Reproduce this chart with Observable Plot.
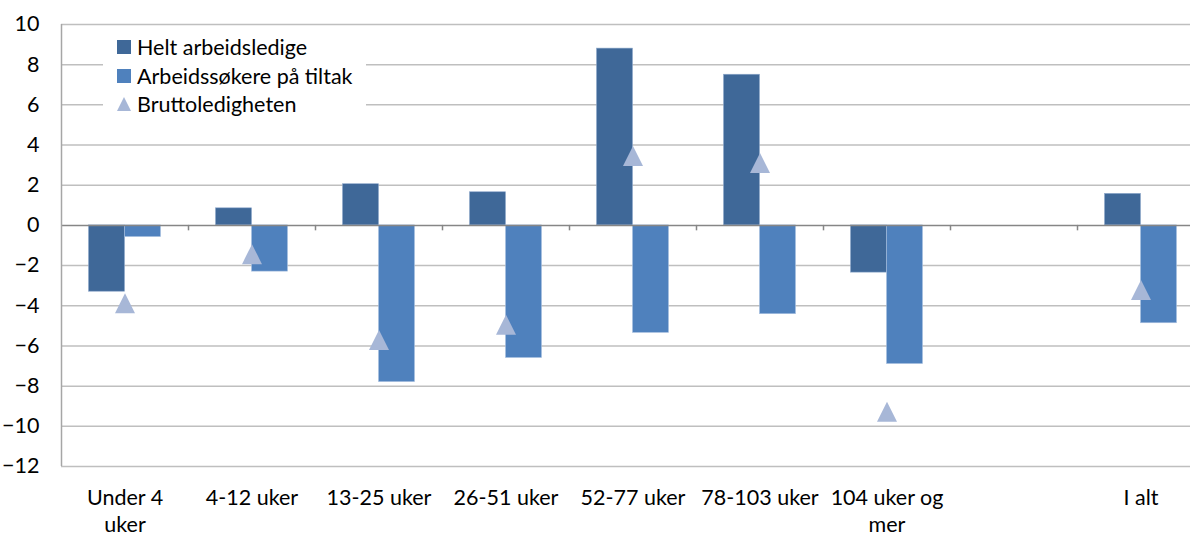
<!DOCTYPE html>
<html>
<head>
<meta charset="utf-8">
<script src="https://cdn.jsdelivr.net/npm/d3@7"></script>
<script src="https://cdn.jsdelivr.net/npm/@observablehq/plot@0.6"></script>
<style>
  html, body { margin: 0; padding: 0; background: #fff; overflow: hidden; }
  #wrap { position: relative; width: 1204px; height: 536px; font-family: Lato, "Open Sans", sans-serif; }
  #legend { position: absolute; left: 103px; top: 31px; width: 263px; height: 86px; background: #fff; }
  .item { position: absolute; left: 14px; height: 20px; display: flex; align-items: center; font-size: 21.5px; color: #000; white-space: nowrap; }
  .sw { width: 14px; height: 14px; margin-right: 6px; flex: none; }
</style>
</head>
<body>
<div id="wrap"><div id="chart"></div><div id="legend"></div></div>
<script>
const categories = ["Under 4 uker", "4-12 uker", "13-25 uker", "26-51 uker", "52-77 uker", "78-103 uker", "104 uker og mer", "", "I alt"];
const tickLabels = ["Under 4\nuker", "4-12 uker", "13-25 uker", "26-51 uker", "52-77 uker", "78-103 uker", "104 uker og\nmer", "", "I alt"];
const seriesNames = ["Helt arbeidsledige", "Arbeidssøkere på tiltak", "Bruttoledigheten"];
const heltLedige = [-3.3, 0.85, 2.05, 1.65, 8.8, 7.5, -2.35, null, 1.57];
const tiltak = [-0.58, -2.3, -7.8, -6.6, -5.35, -4.42, -6.9, null, -4.87];
const brutto = [-3.88, -1.43, -5.7, -4.95, 3.46, 3.11, -9.28, null, -3.22];
const yTicks = [-12, -10, -8, -6, -4, -2, 0, 2, 4, 6, 8, 10];

const colors = ["#3F6898", "#4F81BD", "#A7B7D7"];

const rows = [];
categories.forEach((c, i) => {
  if (heltLedige[i] != null) rows.push({cat: c, series: seriesNames[0], value: heltLedige[i]});
  if (tiltak[i] != null) rows.push({cat: c, series: seriesNames[1], value: tiltak[i]});
});
const pts = categories.map((c, i) => ({cat: c, value: brutto[i]})).filter(d => d.value != null);

const boxTriangle = {
  draw(ctx, size) {
    const r = Math.sqrt(size / Math.PI);
    ctx.moveTo(0, -r);
    ctx.lineTo(r, r);
    ctx.lineTo(-r, r);
    ctx.closePath();
  }
};

const W = 1204, H = 536, ML = 61, MB = 70, MT = 24;
const band = (W - ML) / categories.length;
const barW = 36;
const FS = 21.5;

const chart = Plot.plot({
  width: W,
  height: H,
  marginLeft: ML,
  marginRight: 0,
  marginTop: MT,
  marginBottom: MB,
  style: {fontFamily: "Lato, 'Open Sans', sans-serif", fontSize: FS + "px", color: "#000", background: "#fff", overflow: "visible"},
  x: {type: "band", domain: categories, padding: 0, label: null},
  y: {domain: [-12, 10], label: null},
  marks: [
    Plot.gridY(yTicks.filter(t => t !== 0), {stroke: "#BFBFBF", strokeOpacity: 1, strokeWidth: 1.5}),
    Plot.axisY(yTicks, {tickSize: 0, tickPadding: 22, fontSize: FS, fill: "#000", label: null}),
    Plot.axisX({tickSize: 0, tickPadding: 19, tickFormat: (d) => tickLabels[categories.indexOf(d)], fontSize: FS, lineHeight: 1.27, fill: "#000", label: null}),
    Plot.barY(rows.filter(d => d.series === seriesNames[0]), {x: "cat", y: "value", fill: colors[0], insetLeft: band / 2 - barW, insetRight: band / 2, stroke: "#8FA9CC", strokeWidth: 0.6}),
    Plot.barY(rows.filter(d => d.series === seriesNames[1]), {x: "cat", y: "value", fill: colors[1], insetLeft: band / 2, insetRight: band / 2 - barW, stroke: "#A9C0E0", strokeWidth: 0.6}),
    Plot.ruleY([0], {stroke: "#868686", strokeWidth: 1.5}),
    Plot.ruleX(categories.slice(1), {x: d => d, y1: 0, y2: -0.27, dx: -band / 2, stroke: "#868686", strokeWidth: 1.5}),
    Plot.ruleX([categories[0]], {x: d => d, y1: -12, y2: 10, dx: -band / 2, stroke: "#A6A6A6", strokeWidth: 1.5}),
    Plot.dot(pts, {x: "cat", y: "value", symbol: boxTriangle, r: 10, fill: colors[2], stroke: "none"})
  ]
});
document.getElementById("chart").appendChild(chart);

const legend = document.getElementById("legend");
const rowTops = [6, 35, 63];
seriesNames.forEach((name, i) => {
  const it = document.createElement("div");
  it.className = "item";
  it.style.top = rowTops[i] + "px";
  let sw;
  if (i < 2) {
    sw = `<span class="sw" style="background:${colors[i]}"></span>`;
  } else {
    sw = `<svg class="sw" viewBox="0 0 14 14"><polygon points="7,0 14,14 0,14" fill="${colors[2]}"/></svg>`;
  }
  it.innerHTML = sw + `<span>${name}</span>`;
  legend.appendChild(it);
});
</script>
</body>
</html>
